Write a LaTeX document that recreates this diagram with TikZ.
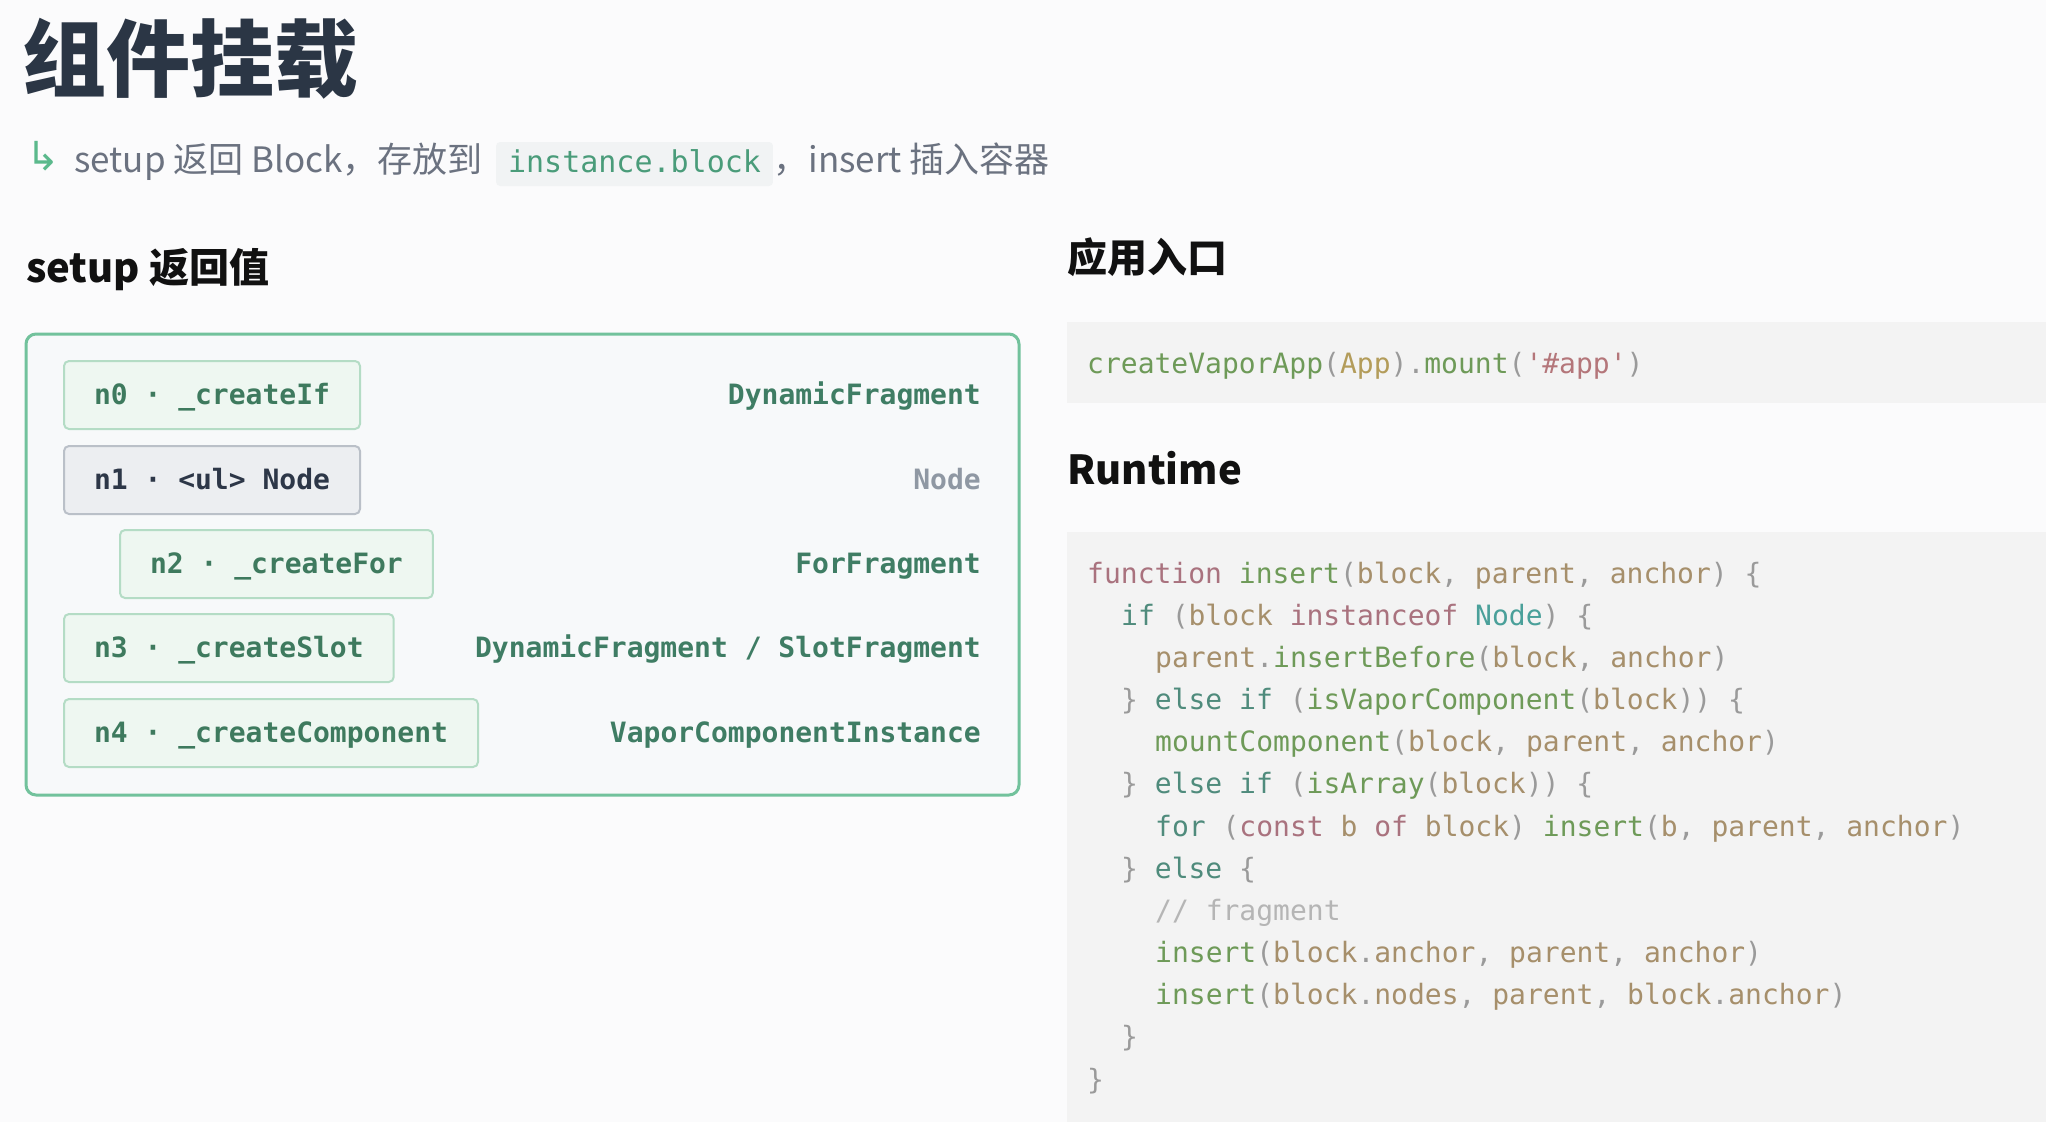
\documentclass[tikz,border=0pt]{standalone}
\usepackage{fontspec}
\setmainfont{Noto Sans CJK SC}
\setmonofont{DejaVu Sans Mono}
\newfontfamily\arrowfont{DejaVu Sans}
\usepackage{xcolor}
\usepackage{tikz}
\usetikzlibrary{positioning}
\definecolor{pagebg}{HTML}{FBFBFC}
\definecolor{titleink}{HTML}{2B3645}
\definecolor{subink}{HTML}{6B7280}
\definecolor{headink}{HTML}{111111}
\definecolor{hookink}{HTML}{5BB98C}
\definecolor{chipbg}{HTML}{F1F3F4}
\definecolor{chipink}{HTML}{4A9C7A}
\definecolor{boxline}{HTML}{72C29C}
\definecolor{boxfill}{HTML}{F7F9FA}
\definecolor{rowline}{HTML}{B4DCC5}
\definecolor{rowfill}{HTML}{EEF7F1}
\definecolor{rowink}{HTML}{3E7A5E}
\definecolor{nodeline}{HTML}{BAC0C8}
\definecolor{nodefill}{HTML}{ECEEF1}
\definecolor{nodeink}{HTML}{2D3748}
\definecolor{typeink}{HTML}{3F7D64}
\definecolor{greyink}{HTML}{8F98A3}
\definecolor{codebg}{HTML}{F3F3F3}
\definecolor{synpun}{HTML}{9A9A9A}
\definecolor{synkw}{HTML}{A9727E}
\definecolor{synfn}{HTML}{6E9A58}
\definecolor{synvar}{HTML}{A68F6B}
\definecolor{synctl}{HTML}{4F8B7C}
\definecolor{syntype}{HTML}{4AA09A}
\definecolor{synstr}{HTML}{B4767A}
\definecolor{syncmt}{HTML}{B5B5B5}
\definecolor{synapp}{HTML}{B39C5A}
\newcommand{\ckw}[1]{\textcolor{synkw}{#1}}
\newcommand{\cfn}[1]{\textcolor{synfn}{#1}}
\newcommand{\cvar}[1]{\textcolor{synvar}{#1}}
\newcommand{\cctl}[1]{\textcolor{synctl}{#1}}
\newcommand{\ctype}[1]{\textcolor{syntype}{#1}}
\newcommand{\cstr}[1]{\textcolor{synstr}{#1}}
\newcommand{\ccmt}[1]{\textcolor{syncmt}{#1}}
\newcommand{\capp}[1]{\textcolor{synapp}{#1}}
\tikzstyle{heading} = [anchor=base west, inner sep=0, font=\fontsize{40}{48}\selectfont\bfseries, text=headink]
\tikzstyle{subtext} = [anchor=base west, inner sep=0, font=\fontsize{35}{42}\selectfont, text=subink]
\tikzstyle{chip} = [anchor=base west, fill=chipbg, rounded corners=4pt, inner xsep=12pt, inner ysep=6pt, text height=24pt, text depth=8pt, font=\fontsize{30}{36}\selectfont\ttfamily, text=chipink]
\tikzstyle{rowblock} = [rectangle, draw=rowline, fill=rowfill, line width=2pt, rounded corners=5pt, anchor=west, minimum height=68pt, inner xsep=30pt, text height=20pt, text depth=2pt, font=\fontsize{28}{34}\selectfont\ttfamily\bfseries, text=rowink]
\tikzstyle{nodeblock} = [rowblock, draw=nodeline, fill=nodefill, text=nodeink]
\tikzstyle{rettype} = [anchor=east, inner sep=0, text height=20pt, text depth=2pt, font=\fontsize{28}{34}\selectfont\ttfamily\bfseries, text=typeink]
\tikzstyle{codeline} = [anchor=base west, inner sep=0, font=\fontsize{28}{34}\selectfont\ttfamily, text=synpun]
\begin{document}
\begin{tikzpicture}[x=1pt, y=-1pt]
    \useasboundingbox (0,0) rectangle (2046,1122);
    \fill[pagebg] (0,0) rectangle (2046,1122);

    % title
    \node[anchor=base west, inner sep=0, font=\fontsize{84}{100}\selectfont\bfseries, text=titleink] at (22, 90) (title) {组件挂载};
    \node[anchor=base west, inner sep=0, font=\arrowfont\fontsize{40}{48}\selectfont, text=hookink] at (26, 170) (hook) {↳};
    \node[subtext] at (74, 172) (sub1) {setup 返回 Block，存放到};
    \node[chip] at ([xshift=13pt]sub1.base east) (chip) {instance.block};
    \node[subtext] at (chip.base east) (sub2) {，insert 插入容器};

    % setup return values
    \node[heading] at (26, 282) (setuphead) {setup 返回值};
    \draw[boxline, line width=3pt, fill=boxfill, rounded corners=10pt] (26,334) rectangle (1019,795);
    \node[rowblock] at (63, 395) (n0) {n0 · \_createIf};
    \node[nodeblock] at (63, 480) (n1) {n1 · <ul> Node};
    \node[rowblock] at (119, 564) (n2) {n2 · \_createFor};
    \node[rowblock] at (63, 648) (n3) {n3 · \_createSlot};
    \node[rowblock] at (63, 733) (n4) {n4 · \_createComponent};
    \node[rettype] at (981, 395) (t0) {DynamicFragment};
    \node[rettype, text=greyink] at (981, 480) (t1) {Node};
    \node[rettype] at (981, 564) (t2) {ForFragment};
    \node[rettype] at (981, 648) (t3) {DynamicFragment / SlotFragment};
    \node[rettype] at (981, 733) (t4) {VaporComponentInstance};

    % app entry
    \node[heading] at (1067, 272) (entryhead) {应用入口};
    \fill[codebg] (1067,322) rectangle (2046,403);
    \node[codeline] at (1087, 373) (entry) {\cfn{createVaporApp}(\capp{App}).\cfn{mount}(\cstr{'\#app'})};

    % runtime insert
    \node[heading] at (1067, 484) (runhead) {Runtime};
    \fill[codebg] (1067,532) rectangle (2046,1122);
    \node[codeline] at (1087, 583) (l1) {\ckw{function} \cfn{insert}(\cvar{block}, \cvar{parent}, \cvar{anchor}) \{};
    \node[codeline] at (1121, 625.2) (l2) {\cctl{if} (\cvar{block} \ckw{instanceof} \ctype{Node}) \{};
    \node[codeline] at (1155, 667.3) (l3) {\cvar{parent}.\cfn{insertBefore}(\cvar{block}, \cvar{anchor})};
    \node[codeline] at (1121, 709.5) (l4) {\} \cctl{else if} (\cfn{isVaporComponent}(\cvar{block})) \{};
    \node[codeline] at (1155, 751.7) (l5) {\cfn{mountComponent}(\cvar{block}, \cvar{parent}, \cvar{anchor})};
    \node[codeline] at (1121, 793.8) (l6) {\} \cctl{else if} (\cfn{isArray}(\cvar{block})) \{};
    \node[codeline] at (1155, 836) (l7) {\cctl{for} (\ckw{const} \cvar{b} \ckw{of} \cvar{block}) \cfn{insert}(\cvar{b}, \cvar{parent}, \cvar{anchor})};
    \node[codeline] at (1121, 878.2) (l8) {\} \cctl{else} \{};
    \node[codeline] at (1155, 920.4) (l9) {\ccmt{// fragment}};
    \node[codeline] at (1155, 962.5) (l10) {\cfn{insert}(\cvar{block}.\cvar{anchor}, \cvar{parent}, \cvar{anchor})};
    \node[codeline] at (1155, 1004.7) (l11) {\cfn{insert}(\cvar{block}.\cvar{nodes}, \cvar{parent}, \cvar{block}.\cvar{anchor})};
    \node[codeline] at (1121, 1046.9) (l12) {\}};
    \node[codeline] at (1087, 1089) (l13) {\}};
\end{tikzpicture}
\end{document}
